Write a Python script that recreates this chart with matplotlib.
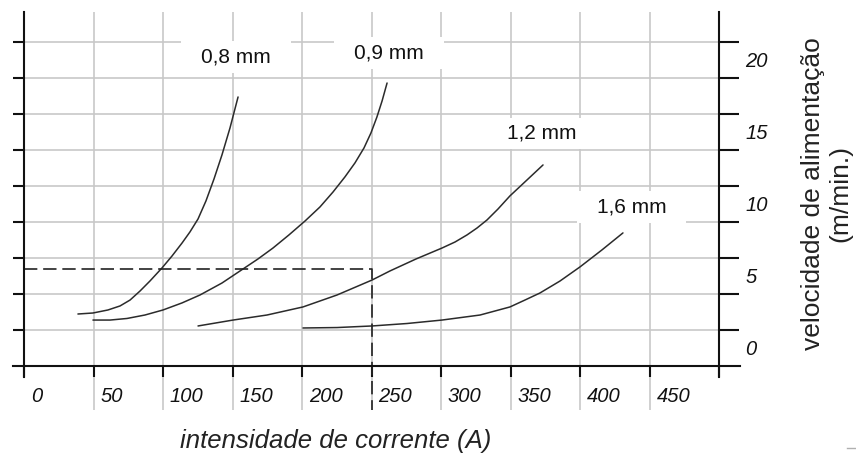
import matplotlib
matplotlib.use("Agg")
import matplotlib.pyplot as plt
import matplotlib.transforms as mtransforms
from matplotlib.path import Path

plt.rcParams['font.family'] = ['Liberation Sans', 'DejaVu Sans']

# ---------------- data ----------------
current_08 = [38.8, 49.6, 60.4, 69.1, 76.3, 83.5, 90.6, 99.3, 106.5, 113.7, 119.4,
              125.2, 130.9, 136.7, 142.4, 148.2, 154.0]
speed_08 = [2.36, 2.43, 2.64, 2.92, 3.33, 3.96, 4.65, 5.56, 6.39, 7.29, 8.06,
            8.96, 10.21, 11.74, 13.40, 15.28, 17.43]

current_09 = [49.6, 61.9, 74.1, 87.0, 100.0, 113.7, 126.6, 142.4, 157.6, 168.3, 179.1,
              190.6, 202.2, 212.9, 222.3, 230.9, 238.1, 244.6, 249.6, 253.9, 257.6, 261.2]
speed_09 = [1.94, 1.94, 2.05, 2.29, 2.64, 3.13, 3.68, 4.51, 5.49, 6.18, 6.94,
            7.85, 8.82, 9.79, 10.83, 11.88, 12.85, 13.89, 14.93, 16.04, 17.15, 18.40]

current_12 = [125.2, 150.4, 174.8, 200.7, 225.2, 250.4, 263.3, 282.0, 300.7, 310.1,
              318.7, 325.9, 333.1, 341.0, 349.6, 361.9, 373.4]
speed_12 = [1.53, 1.94, 2.29, 2.85, 3.68, 4.72, 5.35, 6.18, 6.94, 7.36,
            7.85, 8.33, 8.89, 9.65, 10.56, 11.67, 12.71]

current_16 = [200.7, 225.2, 250.4, 275.5, 300.7, 328.1, 349.6, 360.4, 371.2, 385.6,
              400.0, 415.8, 430.9]
speed_16 = [1.39, 1.42, 1.53, 1.70, 1.94, 2.29, 2.85, 3.33, 3.82, 4.65,
            5.63, 6.81, 7.99]

series_labels = ['0,8 mm', '0,9 mm', '1,2 mm', '1,6 mm']

ref_current = 250
ref_speed = 5.5

x_ticks = [0, 50, 100, 150, 200, 250, 300, 350, 400, 450, 500]
x_tick_labels = ['0', '50', '100', '150', '200', '250', '300', '350', '400', '450', '']
speed_ticks = [0, 5, 10, 15, 20]
speed_tick_labels = ['0', '5', '10', '15', '20']
speed_grid = [-1.25, 1.25, 3.75, 6.25, 8.75, 11.25, 13.75, 16.25, 18.75, 21.25]
current_grid = [50, 100, 150, 200, 250, 300, 350, 400, 450]

x_title = 'intensidade de corrente (A)'
y_title = 'velocidade de alimentação\n(m/min.)'

# ---------------- layout ----------------
W, H = 856, 459
fig = plt.figure(figsize=(W / 100, H / 100), dpi=100)
ax = fig.add_axes([24 / W, 1 - 366 / H, (719 - 24) / W, (366 - 12) / H])
XMIN, XMAX = 0, 500
YMIN, YMAX = -1.25, 23.33
ax.set_xlim(XMIN, XMAX)
ax.set_ylim(YMIN, YMAX)
ax.patch.set_visible(False)

grid_color = '#c8c8c8'
line_color = '#2b2b2b'
axis_color = '#111111'
below_axis = -4.3   # grid lines run down through the tick-label band
axis_ext = -2.0

# grid
ax.vlines(current_grid, below_axis, YMAX, colors=grid_color, lw=1.2, zorder=1, clip_on=False)
ax.hlines(speed_grid[1:], XMIN, XMAX, colors=grid_color, lw=1.2, zorder=1)

# curves
for xs, ys in [(current_08, speed_08), (current_09, speed_09),
               (current_12, speed_12), (current_16, speed_16)]:
    ax.plot(xs, ys, color=line_color, lw=1.1, zorder=4,
            solid_capstyle='round', solid_joinstyle='round')

# reference dashed line
ax.plot([XMIN, ref_current, ref_current], [ref_speed, ref_speed, below_axis],
        color='#222222', lw=1.2, dashes=(8, 3.5), zorder=5, clip_on=False)

# spines
ax.spines['top'].set_visible(False)
ax.spines['right'].set_visible(False)
for s in ['left', 'bottom']:
    ax.spines[s].set_linewidth(1.5)
    ax.spines[s].set_color(axis_color)
    ax.spines[s].set_zorder(6)
ax.spines['left'].set_bounds(axis_ext, YMAX)
ax.spines['bottom'].set_bounds(-7.9, 515)

# x ticks
ax.set_xticks(x_ticks)
ax.set_xticklabels(x_tick_labels, fontsize=14.5, style='italic', color='#111111')
ax.tick_params(axis='x', direction='out', length=7.9, width=1.5, color=axis_color, pad=7.5)
for lab in ax.get_xticklabels():
    lab.set_horizontalalignment('left')
    lab.set_transform(lab.get_transform() + mtransforms.ScaledTranslation(5 / 72, 0, fig.dpi_scale_trans))

# left ticks
ax.set_yticks(speed_grid[1:])
ax.tick_params(axis='y', direction='out', length=7.9, width=1.5, color=axis_color,
               labelleft=False, left=True, right=False)

# right axis
ax2 = ax.twinx()
ax2.set_ylim(YMIN, YMAX)
ax2.patch.set_visible(False)
for s in ['top', 'left', 'bottom']:
    ax2.spines[s].set_visible(False)
ax2.spines['right'].set_linewidth(1.5)
ax2.spines['right'].set_color(axis_color)
ax2.spines['right'].set_bounds(axis_ext, YMAX)
ax2.set_yticks(speed_ticks)
ax2.set_yticklabels(speed_tick_labels, fontsize=14.5, style='italic', color='#111111')
ax2.set_yticks(speed_grid[1:], minor=True)
ax2.tick_params(axis='y', which='major', length=0, pad=19)
ax2.tick_params(axis='y', which='minor', direction='out', length=14.4, width=1.5, color=axis_color)

# curve labels with white boxes that break the grid
def wide_box(x0, y0, width, height, mutation_size):
    px = 0.95 * mutation_size
    py = 0.30 * mutation_size
    return Path([(x0 - px, y0 - py), (x0 + width + px, y0 - py),
                 (x0 + width + px, y0 + height + py), (x0 - px, y0 + height + py),
                 (x0 - px, y0 - py)], closed=True)

label_pos = [(152.5, 20.2), (262.5, 20.5), (372.5, 14.9), (437, 9.8)]
for txt, (lx, ly) in zip(series_labels, label_pos):
    ax.text(lx, ly, txt, fontsize=15, ha='center', va='center', color='#111111', zorder=3,
            bbox=dict(boxstyle=wide_box, fc='white', ec='none'))

# axis titles
fig.text(336 / W, 1 - 441 / H, x_title, fontsize=18.5, style='italic', color='#222222',
         ha='center', va='center')
fig.text(826.5 / W, 1 - 194 / H, y_title, fontsize=19, rotation=90, color='#222222',
         ha='center', va='center', multialignment='center', linespacing=1.15)

# small stray mark at the lower right
fig.add_artist(plt.Line2D([847 / W, 1.0], [1 - 448 / H, 1 - 448 / H], color='#b0b0b0', lw=1))

fig.savefig('out.png', dpi=100, facecolor='white')
